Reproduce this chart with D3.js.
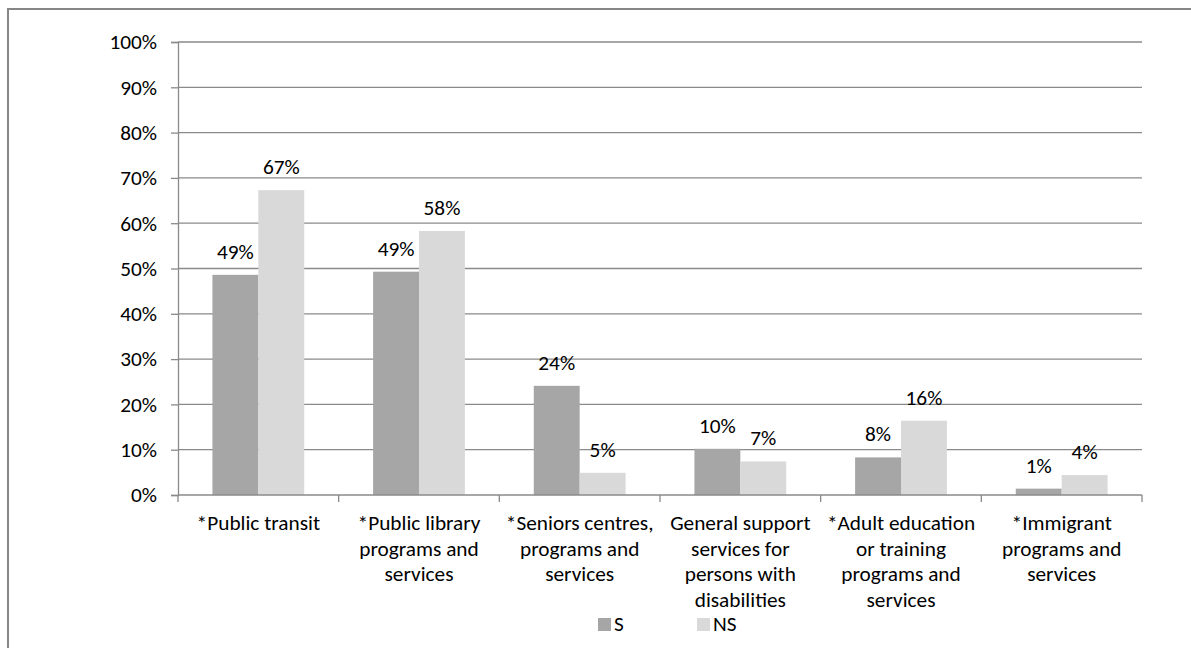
<!DOCTYPE html>
<html>
<head>
<meta charset="utf-8">
<script src="https://cdn.jsdelivr.net/npm/d3@7"></script>
<style>
  html, body { margin: 0; padding: 0; background: #fff; }
  svg { display: block; }
  text { font-family: Carlito, Lato, "Open Sans", sans-serif; fill: #000; }
</style>
</head>
<body>
<svg id="chart" width="1191" height="648"></svg>
<script>
// Service categories (each entry is the wrapped label lines)
const categories = [
  ["*Public transit"],
  ["*Public library", "programs and", "services"],
  ["*Seniors centres,", "programs and", "services"],
  ["General support", "services for", "persons with", "disabilities"],
  ["*Adult education", "or training", "programs and", "services"],
  ["*Immigrant", "programs and", "services"]
];
const seriesNames = ["S", "NS"];
const valuesS  = [0.486, 0.493, 0.241, 0.102, 0.083, 0.014];
const valuesNS = [0.673, 0.583, 0.049, 0.074, 0.164, 0.044];
const yTicks = [0, 0.1, 0.2, 0.3, 0.4, 0.5, 0.6, 0.7, 0.8, 0.9, 1.0];

const colors = { S: "#a6a6a6", NS: "#d9d9d9" };
const fontSize = 21.3;

const svg = d3.select("#chart");

// Outer chart frame
svg.append("rect")
  .attr("x", 8).attr("y", 9)
  .attr("width", 1200).attr("height", 660)
  .attr("fill", "none")
  .attr("stroke", "#878787")
  .attr("stroke-width", 2);

const plot = { left: 178, right: 1142, top: 42, bottom: 495 };

const x = d3.scaleBand()
  .domain(d3.range(categories.length))
  .range([plot.left, plot.right])
  .paddingInner(0)
  .paddingOuter(0);

const groupPad = 0.2143; // 150% gap: 1.5 / (2 + 1.5) / 2
const xs = d3.scaleBand()
  .domain(seriesNames)
  .range([x.bandwidth() * groupPad, x.bandwidth() * (1 - groupPad)]);

const y = d3.scaleLinear().domain([0, 1]).range([plot.bottom, plot.top]);

// Horizontal gridlines
svg.append("g")
  .selectAll("line")
  .data(yTicks.filter(t => t > 0))
  .join("line")
  .attr("x1", plot.left).attr("x2", plot.right)
  .attr("y1", d => y(d)).attr("y2", d => y(d))
  .attr("stroke", "#8a8a8a")
  .attr("stroke-width", 1.3);

// Y axis
const yAxis = svg.append("g")
  .attr("transform", `translate(${plot.left},0)`)
  .call(d3.axisLeft(y).tickValues(yTicks).tickFormat(d3.format(".0%")).tickSize(7).tickPadding(14));
yAxis.select(".domain").attr("stroke", "#8a8a8a").attr("stroke-width", 1.3);
yAxis.selectAll(".tick line").attr("stroke", "#8a8a8a").attr("stroke-width", 1.3);
yAxis.selectAll(".tick text")
  .style("font-family", "Carlito, Lato, 'Open Sans', sans-serif")
  .style("font-size", fontSize + "px")
  .attr("fill", "#000");

// Bars
const data = categories.map((c, i) => ({ i, values: [
  { key: "S", value: valuesS[i] },
  { key: "NS", value: valuesNS[i] }
]}));

const groups = svg.append("g")
  .selectAll("g")
  .data(data)
  .join("g")
  .attr("transform", d => `translate(${x(d.i)},0)`);

groups.selectAll("rect")
  .data(d => d.values)
  .join("rect")
  .attr("x", d => xs(d.key))
  .attr("width", xs.bandwidth())
  .attr("y", d => y(d.value))
  .attr("height", d => y(0) - y(d.value))
  .attr("fill", d => colors[d.key]);

// Value labels
groups.selectAll("text.value")
  .data(d => d.values)
  .join("text")
  .attr("class", "value")
  .attr("x", d => xs(d.key) + xs.bandwidth() / 2)
  .attr("y", d => y(d.value) - 16)
  .attr("text-anchor", "middle")
  .style("font-size", fontSize + "px")
  .text(d => d3.format(".0%")(d.value));

// X axis baseline with category boundary ticks
const xAxisG = svg.append("g");
xAxisG.append("line")
  .attr("x1", plot.left).attr("x2", plot.right)
  .attr("y1", plot.bottom).attr("y2", plot.bottom)
  .attr("stroke", "#8a8a8a").attr("stroke-width", 1.3);
xAxisG.selectAll("line.tick")
  .data(d3.range(categories.length + 1))
  .join("line")
  .attr("class", "tick")
  .attr("x1", d => d < categories.length ? x(d) : plot.right)
  .attr("x2", d => d < categories.length ? x(d) : plot.right)
  .attr("y1", plot.bottom).attr("y2", plot.bottom + 7)
  .attr("stroke", "#8a8a8a").attr("stroke-width", 1.3);

// Category labels
const lineHeight = 25.6;
xAxisG.selectAll("text.cat")
  .data(categories)
  .join("text")
  .attr("class", "cat")
  .attr("text-anchor", "middle")
  .style("font-size", fontSize + "px")
  .each(function(lines, i) {
    const t = d3.select(this);
    lines.forEach((ln, k) => {
      t.append("tspan")
        .attr("x", x(i) + x.bandwidth() / 2)
        .attr("y", 530 + k * lineHeight)
        .text(ln);
    });
  });

// Legend
const legend = svg.append("g");
const legendX = [598, 697];
seriesNames.forEach((name, k) => {
  legend.append("rect")
    .attr("x", legendX[k]).attr("y", 618)
    .attr("width", 13).attr("height", 13)
    .attr("fill", colors[name]);
  legend.append("text")
    .attr("x", legendX[k] + 16).attr("y", 631)
    .style("font-size", fontSize + "px")
    .text(name);
});
</script>
</body>
</html>
